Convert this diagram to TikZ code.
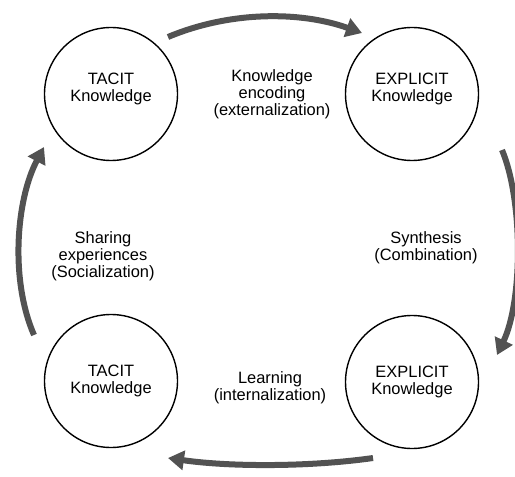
\documentclass[tikz,border=0pt]{standalone}
\usepackage{fontspec}
\setmainfont{Liberation Sans}
\usetikzlibrary{arrows.meta}
\definecolor{cyclegray}{HTML}{525252}
\begin{document}
\begin{tikzpicture}[x=1bp,y={(0bp,-1bp)},
  know/.style={circle,draw=black,line width=1.4bp,minimum size=133bp,inner sep=0pt,
    align=center,font=\fontsize{16.5}{17}\selectfont},
  raised/.style={text depth=14bp},
  stage/.style={align=center,inner sep=0pt,font=\fontsize{16.5}{17}\selectfont},
  cycle/.style={draw=cyclegray,line width=6bp,-{Triangle[length=16bp,width=19bp]}}]
\useasboundingbox (0,0) rectangle (515,477);

% the four knowledge states
\node[know,raised] (tacitA)    at (111,94)  {TACIT\\Knowledge};
\node[know,raised] (explicitA) at (412,94)  {EXPLICIT\\Knowledge};
\node[know]        (explicitB) at (412,382) {EXPLICIT\\Knowledge};
\node[know]        (tacitB)    at (111,381) {TACIT\\Knowledge};

% the conversion processes
\node[stage] (encoding)  at (272,94)  {Knowledge\\encoding\\(externalization)};
\node[stage] (synthesis) at (426,248) {Synthesis\\(Combination)};
\node[stage] (learning)  at (270,388) {Learning\\(internalization)};
\node[stage] (sharing)   at (103,256) {Sharing\\experiences\\(Socialization)};

% arrow end points around the cycle
\coordinate (encS) at (168,37);
\coordinate (encE) at (362,33);
\coordinate (synS) at (502,150);
\coordinate (synE) at (497,355);
\coordinate (lrnS) at (373,458);
\coordinate (lrnE) at (168,458);
\coordinate (shrS) at (34,335);
\coordinate (shrE) at (44,147);

\draw[cycle] (encS) .. controls (230,11) and (300,11) .. (encE);
\draw[cycle] (synS) .. controls (523,200) and (523,300) .. (synE);
\draw[cycle] (lrnS) .. controls (310,467) and (230,467) .. (lrnE);
\draw[cycle] (shrS) .. controls (10,280) and (16,200) .. (shrE);
\end{tikzpicture}
\end{document}
